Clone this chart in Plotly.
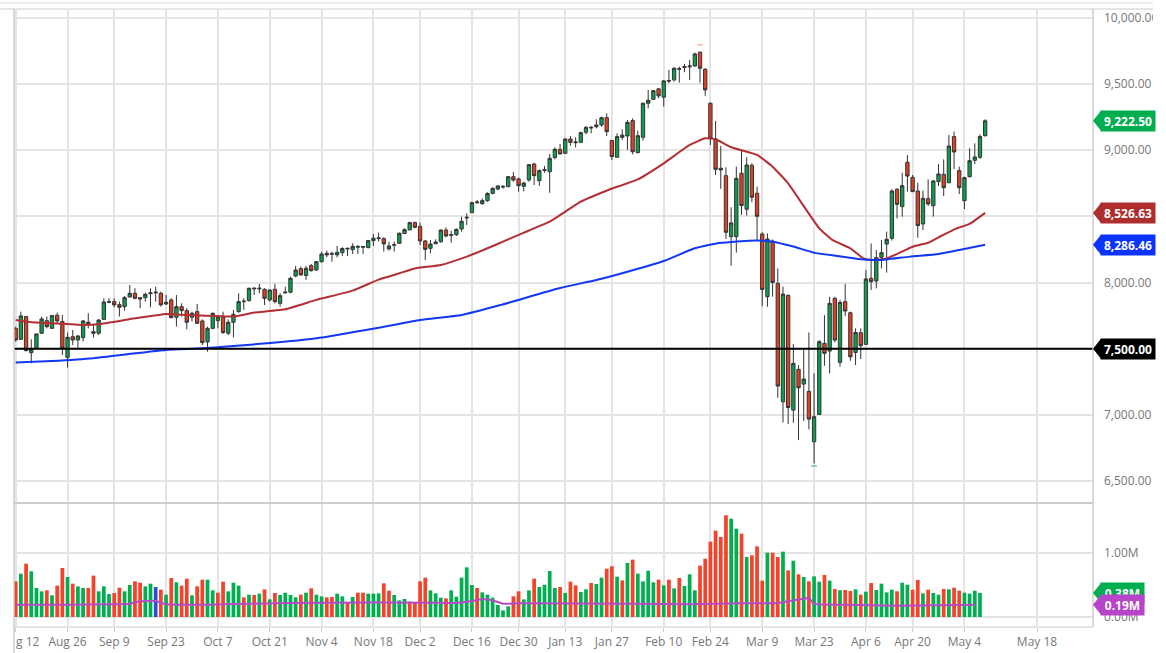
import plotly.graph_objects as go

W = 1166
H = 653

# candles, Aug 12 to May 8 (one entry per trading day)
opens = [7654, 7571, 7743, 7470, 7503, 7617, 7712, 7654, 7753, 7705,
         7435, 7591, 7566, 7584, 7700, 7629, 7617, 7722, 7851, 7856,
         7833, 7818, 7891, 7919, 7886, 7886, 7916, 7922, 7919, 7838,
         7869, 7738, 7818, 7788, 7738, 7780, 7710, 7551, 7654, 7712,
         7738, 7617, 7700, 7780, 7856, 7864, 7952, 7952, 7949, 7869,
         7949, 7843, 7922, 7927, 8050, 8105, 8053, 8128, 8095, 8158,
         8221, 8214, 8209, 8226, 8254, 8249, 8267, 8267, 8264, 8317,
         8332, 8332, 8254, 8282, 8297, 8370, 8398, 8453, 8423, 8314,
         8259, 8294, 8309, 8397, 8357, 8362, 8405, 8488, 8528, 8604,
         8596, 8619, 8674, 8707, 8722, 8725, 8800, 8783, 8727, 8775,
         8896, 8770, 8848, 8838, 8946, 9007, 8977, 9085, 9057, 9060,
         9136, 9168, 9178, 9191, 9246, 9073, 8947, 9115, 9108, 9224,
         8982, 9098, 9355, 9385, 9464, 9401, 9522, 9532, 9612, 9625,
         9630, 9637, 9741, 9612, 9355, 9086, 8864, 8808, 8347, 8347,
         8826, 8554, 8886, 8675, 8367, 7893, 8314, 7994, 7099, 7903,
         7036, 7344, 7233, 7177, 6797, 7003, 7540, 7482, 7880, 7397,
         7855, 7772, 7472, 7621, 7533, 8032, 8012, 8191, 8291, 8334,
         8705, 8574, 8909, 8795, 8692, 8443, 8634, 8581, 8763, 8818,
         8755, 9103, 8846, 8619, 8800, 8924, 8947, 9110]
highs = [7667, 7780, 7748, 7571, 7612, 7743, 7743, 7755, 7773, 7755,
         7622, 7642, 7604, 7717, 7768, 7680, 7722, 7881, 7881, 7881,
         7856, 7899, 7982, 7957, 7886, 7924, 7957, 7969, 7932, 7906,
         7881, 7906, 7843, 7806, 7780, 7838, 7722, 7667, 7773, 7755,
         7780, 7722, 7793, 7919, 7881, 7962, 7964, 7990, 7957, 7949,
         7990, 7919, 7969, 8045, 8126, 8121, 8126, 8141, 8163, 8234,
         8242, 8234, 8277, 8267, 8259, 8297, 8284, 8277, 8322, 8368,
         8378, 8342, 8310, 8310, 8378, 8410, 8461, 8461, 8453, 8322,
         8322, 8327, 8402, 8417, 8392, 8410, 8498, 8523, 8611, 8624,
         8636, 8682, 8720, 8737, 8735, 8805, 8835, 8793, 8762, 8896,
         8906, 8856, 8881, 8972, 9022, 9047, 9090, 9108, 9098, 9140,
         9183, 9183, 9234, 9254, 9279, 9078, 9128, 9158, 9229, 9241,
         9148, 9360, 9456, 9456, 9469, 9532, 9607, 9627, 9632, 9653,
         9683, 9738, 9746, 9620, 9360, 9222, 9033, 8871, 8569, 8876,
         8995, 8947, 8902, 8725, 8380, 8372, 8326, 8107, 7969, 7911,
         7535, 7376, 7490, 7623, 7313, 7565, 7754, 7893, 7893, 7868,
         7989, 7780, 7654, 7654, 8095, 8296, 8246, 8322, 8385, 8705,
         8712, 8831, 8964, 8813, 8755, 8695, 8780, 8775, 8896, 8931,
         9115, 9141, 8876, 8800, 9015, 9052, 9120, 9234]
lows = [7554, 7566, 7478, 7390, 7500, 7612, 7654, 7650, 7692, 7453,
        7357, 7528, 7503, 7554, 7654, 7584, 7604, 7717, 7843, 7813,
        7743, 7788, 7889, 7874, 7806, 7856, 7813, 7856, 7818, 7831,
        7730, 7667, 7743, 7647, 7705, 7692, 7528, 7478, 7647, 7654,
        7612, 7604, 7586, 7773, 7793, 7856, 7906, 7919, 7831, 7856,
        7843, 7818, 7919, 7919, 8040, 8050, 8020, 8083, 8090, 8151,
        8191, 8158, 8191, 8201, 8201, 8216, 8216, 8216, 8259, 8277,
        8310, 8234, 8242, 8234, 8292, 8368, 8398, 8410, 8284, 8170,
        8221, 8289, 8301, 8342, 8301, 8352, 8385, 8435, 8528, 8594,
        8588, 8611, 8667, 8699, 8709, 8720, 8762, 8687, 8689, 8762,
        8737, 8730, 8830, 8679, 8931, 8969, 8972, 9035, 9022, 9057,
        9120, 9128, 9166, 9178, 9108, 8926, 8947, 9078, 9002, 8969,
        8977, 9073, 9317, 9380, 9393, 9330, 9506, 9519, 9511, 9590,
        9532, 9632, 9511, 9411, 9040, 8813, 8708, 8330, 8128, 8226,
        8511, 8506, 8607, 8322, 7822, 7817, 7893, 7129, 6943, 6930,
        6940, 6809, 6953, 6890, 6633, 7003, 7371, 7313, 7548, 7364,
        7747, 7409, 7376, 7422, 7528, 7944, 7956, 8107, 8075, 8317,
        8485, 8498, 8687, 8687, 8339, 8397, 8579, 8498, 8730, 8654,
        8750, 8858, 8669, 8556, 8795, 8896, 8934, 9103]
closes = [7566, 7748, 7486, 7496, 7612, 7725, 7667, 7750, 7710, 7503,
          7586, 7566, 7596, 7710, 7685, 7617, 7717, 7853, 7856, 7831,
          7813, 7886, 7919, 7881, 7876, 7911, 7922, 7927, 7831, 7851,
          7735, 7818, 7788, 7700, 7768, 7692, 7546, 7654, 7768, 7738,
          7622, 7700, 7760, 7856, 7859, 7957, 7957, 7957, 7881, 7944,
          7856, 7901, 7927, 8032, 8095, 8058, 8108, 8090, 8158, 8216,
          8209, 8219, 8229, 8257, 8259, 8274, 8272, 8272, 8317, 8335,
          8337, 8292, 8277, 8287, 8373, 8400, 8453, 8418, 8315, 8251,
          8291, 8306, 8397, 8352, 8362, 8402, 8463, 8493, 8604, 8609,
          8619, 8674, 8712, 8730, 8727, 8800, 8775, 8732, 8752, 8891,
          8808, 8846, 8853, 8939, 9007, 8972, 9085, 9060, 9062, 9133,
          9173, 9173, 9191, 9246, 9141, 8952, 9103, 9098, 9211, 8989,
          9110, 9355, 9378, 9451, 9411, 9524, 9527, 9620, 9617, 9632,
          9637, 9728, 9620, 9456, 9091, 8856, 8851, 8380, 8451, 8788,
          8582, 8889, 8645, 8501, 7948, 8329, 8001, 7218, 7913, 7056,
          7389, 7205, 7271, 6968, 6986, 7553, 7465, 7843, 7565, 7850,
          7785, 7439, 7623, 7523, 8027, 8007, 8188, 8226, 8327, 8692,
          8591, 8732, 8805, 8687, 8430, 8637, 8594, 8768, 8821, 8717,
          9032, 8987, 8717, 8793, 8921, 8949, 9103, 9222.5]

# moving averages, read at the turning points of each line
red_idx = [0, 3, 7, 13, 16, 23, 29, 33, 38, 42, 46, 52, 58, 65, 70, 74, 77, 82,
           87, 92.5, 97.7, 103, 109, 114.3, 120, 125, 130, 133, 135, 138, 143,
           146, 149, 152.5, 155, 157.5, 161, 163.5, 165, 168, 170, 173, 176,
           178.5, 181.5, 184, 187]
red_ma = [7717, 7700, 7692, 7680, 7685, 7730, 7763, 7755, 7748, 7743, 7773, 7798,
          7869, 7939, 8022, 8070, 8107, 8133, 8196, 8284, 8372, 8460, 8611, 8700,
          8780, 8901, 9040, 9090, 9083, 9023, 8965, 8876, 8750, 8549, 8410, 8322,
          8259, 8183, 8170, 8183, 8216, 8271, 8301, 8352, 8410, 8443, 8526.63]
blue_idx = [0, 7, 15, 23, 29, 36, 42, 48.5, 58, 70, 78, 86, 93.5, 105, 112, 118,
            125, 131, 135, 137, 143, 146, 150, 154, 158.5, 163, 166, 168, 172.5,
            178, 182, 187]
blue_ma = [7395, 7407, 7428, 7465, 7491, 7503, 7521, 7541, 7579, 7659, 7717, 7755,
           7830, 7959, 8019, 8082, 8163, 8259, 8294, 8302, 8317, 8309, 8272, 8226,
           8201, 8176, 8171, 8175, 8196, 8216, 8246, 8286.46]

# volume in millions
volumes = [0.557, 0.677, 0.833, 0.714, 0.453, 0.401, 0.417, 0.339, 0.490, 0.766,
           0.625, 0.521, 0.479, 0.453, 0.453, 0.646, 0.401, 0.479, 0.359, 0.375,
           0.458, 0.401, 0.500, 0.557, 0.536, 0.479, 0.521, 0.469, 0.427, 0.349,
           0.609, 0.542, 0.490, 0.599, 0.339, 0.479, 0.583, 0.583, 0.417, 0.380,
           0.552, 0.401, 0.536, 0.490, 0.307, 0.349, 0.344, 0.365, 0.432, 0.276,
           0.375, 0.344, 0.380, 0.344, 0.307, 0.349, 0.380, 0.448, 0.349, 0.323,
           0.307, 0.313, 0.365, 0.323, 0.234, 0.313, 0.380, 0.380, 0.365, 0.365,
           0.370, 0.526, 0.411, 0.344, 0.260, 0.281, 0.240, 0.234, 0.557, 0.615,
           0.417, 0.370, 0.302, 0.292, 0.417, 0.318, 0.615, 0.776, 0.500, 0.453,
           0.385, 0.349, 0.302, 0.188, 0.104, 0.167, 0.323, 0.401, 0.276, 0.417,
           0.599, 0.469, 0.505, 0.719, 0.453, 0.469, 0.375, 0.552, 0.495, 0.391,
           0.432, 0.531, 0.516, 0.615, 0.755, 0.792, 0.630, 0.573, 0.844, 0.896,
           0.677, 0.557, 0.724, 0.542, 0.583, 0.495, 0.583, 0.448, 0.609, 0.484,
           0.667, 0.417, 0.802, 0.911, 1.177, 1.349, 1.250, 1.589, 1.536, 1.380,
           1.302, 0.938, 0.964, 1.104, 0.568, 1.005, 1.005, 0.938, 1.021, 0.729,
           0.880, 0.667, 0.625, 0.557, 0.635, 0.552, 0.656, 0.568, 0.438, 0.417,
           0.422, 0.406, 0.432, 0.349, 0.396, 0.531, 0.422, 0.521, 0.385, 0.427,
           0.401, 0.536, 0.505, 0.427, 0.578, 0.370, 0.427, 0.375, 0.349, 0.438,
           0.432, 0.458, 0.411, 0.380, 0.365, 0.411, 0.375]
volume_sides = list(
    "RGRGGGRGRR" "GRGGRRGGGR" "RGGRRGGBRG" "RGRRGRRGGR"
    "RGGGRGRGRG" "RGGGGRGRGG" "RRGGRGRRGG" "GRRGGGRRRR"
    "GGGRGGGGGR" "GGGGGGRRGG" "RGGGGRGRRG" "GRGGRRGRGR"
    "GGGGRGRGRG" "GGRRRRRRGG" "RGRRRGRRGR" "GRGRGGRGRG"
    "RRGRGRGGGG" "RGGRRGRGGR" "GRRGGGG"
)
volume_ma_idx = [0, 10, 18, 22, 24, 27, 29, 40, 45, 60, 80, 85, 88, 90, 92, 94, 97,
                 120, 130, 140, 147, 150, 152, 153, 154, 160, 170, 185]
volume_ma = [0.193, 0.193, 0.198, 0.208, 0.245, 0.250, 0.198, 0.198, 0.208, 0.224,
             0.224, 0.219, 0.250, 0.276, 0.260, 0.208, 0.214, 0.208, 0.198, 0.214,
             0.219, 0.260, 0.286, 0.297, 0.208, 0.193, 0.177, 0.190]

# small arrows the site puts on the high and the low
mark_idx = [132, 154]
mark_vals = [9796, 6614]

tick_idx = [0, 10, 19, 29, 39, 49, 59, 69, 78, 88, 97, 106, 115, 125, 134, 144, 154,
            164, 173, 183, 197]
# first label is cut by the left edge in the original, drawn separately below
tick_text = ["", "Aug 26", "Sep 9", "Sep 23", "Oct 7", "Oct 21", "Nov 4", "Nov 18",
             "Dec 2", "Dec 16", "Dec 30", "Jan 13", "Jan 27", "Feb 10", "Feb 24", "Mar 9",
             "Mar 23", "Apr 6", "Apr 20", "May 4", "May 18"]
first_label = "g 12"
price_ticks = [6500, 7000, 7500, 8000, 8500, 9000, 9500, 10000]
price_text = ["6,500.00", "7,000.00", "", "8,000.00", "", "9,000.00", "9,500.00", "10,000.00"]

GRID = "#e4e4e4"
BORDER = "#cccccc"
TEXT = "#777777"
FONT = "Open Sans"
GREEN = "#0a9f4d"
RED = "#e03f22"
VOL_COLORS = {"G": "#00b050", "R": "#f4432a", "B": "#2a4fd6"}


def px_x(p):
    return p / W


def px_y(p):
    return 1 - p / H


x_range = [-0.328, 207.8]
days = list(range(len(closes)))

fig = go.Figure()
fig.add_trace(go.Candlestick(
    x=days, open=opens, high=highs, low=lows, close=closes,
    increasing=dict(line=dict(color="#333333", width=1), fillcolor=GREEN),
    decreasing=dict(line=dict(color="#333333", width=1), fillcolor=RED),
    whiskerwidth=0, xaxis="x", yaxis="y",
))
fig.add_trace(go.Scatter(x=red_idx, y=red_ma, mode="lines", xaxis="x", yaxis="y",
                         line=dict(color="#b32f33", width=2, shape="spline", smoothing=0.35)))
fig.add_trace(go.Scatter(x=blue_idx, y=blue_ma, mode="lines", xaxis="x", yaxis="y",
                         line=dict(color="#1038f5", width=2, shape="spline", smoothing=0.5)))
fig.add_trace(go.Scatter(x=[mark_idx[0]], y=[mark_vals[0]], mode="markers", xaxis="x", yaxis="y",
                         marker=dict(symbol="line-ew", size=4, line=dict(color="#f08a70", width=1))))
fig.add_trace(go.Scatter(x=[mark_idx[1]], y=[mark_vals[1]], mode="markers", xaxis="x", yaxis="y",
                         marker=dict(symbol="line-ew", size=4, line=dict(color="#20b060", width=1))))
fig.add_trace(go.Bar(x=days[:len(volumes)], y=volumes, xaxis="x2", yaxis="y2", width=0.72,
                     marker=dict(color=[VOL_COLORS[s] for s in volume_sides], line=dict(width=0))))
fig.add_trace(go.Scatter(x=volume_ma_idx, y=volume_ma, mode="lines", xaxis="x2", yaxis="y2",
                         line=dict(color="#b848c8", width=2, shape="spline", smoothing=0.5)))

axis_font = dict(family=FONT, size=12, color=TEXT)
fig.update_layout(
    width=W, height=H, margin=dict(l=0, r=0, t=0, b=0), showlegend=False,
    paper_bgcolor="white", plot_bgcolor="white", font=dict(family=FONT),
    bargap=0.3, boxgap=0.2, boxgroupgap=0.2,
    xaxis=dict(domain=[px_x(14), px_x(1093)], range=x_range, anchor="y", rangeslider=dict(visible=False),
               tickmode="array", tickvals=tick_idx, ticktext=[""] * len(tick_idx), showticklabels=False,
               showgrid=True, gridcolor=GRID, gridwidth=2, zeroline=False, ticks=""),
    yaxis=dict(domain=[px_y(503), px_y(10)], range=[6334, 10060], anchor="x", side="right",
               tickmode="array", tickvals=price_ticks, ticktext=price_text, tickfont=axis_font,
               ticklabelstandoff=10, ticks="", showgrid=True, gridcolor=GRID, gridwidth=2, zeroline=False),
    xaxis2=dict(domain=[px_x(14), px_x(1093)], range=x_range, anchor="y2",
                tickmode="array", tickvals=tick_idx, ticktext=tick_text, tickfont=axis_font,
                ticks="outside", ticklen=4, tickcolor=BORDER, tickwidth=1,
                showgrid=True, gridcolor=GRID, gridwidth=2, zeroline=False, tickangle=0),
    yaxis2=dict(domain=[px_y(627), px_y(503)], range=[-0.156, 1.781], anchor="x2", side="right",
                tickmode="array", tickvals=[0, 1], ticktext=["0.00M", "1.00M"], tickfont=axis_font,
                ticklabelstandoff=10, ticks="", showgrid=True, gridcolor=GRID, gridwidth=2, zeroline=False),
)

shapes = [
    # 7500 level
    dict(type="line", xref="x", yref="y", x0=x_range[0], x1=x_range[1], y0=7500, y1=7500,
         line=dict(color="black", width=2)),
    # frame of the two panes
    dict(type="line", xref="paper", yref="paper", x0=0, x1=px_x(1153), y0=px_y(3), y1=px_y(3),
         line=dict(color="#dddddd", width=1)),
    dict(type="line", xref="paper", yref="paper", x0=0, x1=px_x(1153), y0=px_y(9), y1=px_y(9),
         line=dict(color=BORDER, width=1)),
    dict(type="line", xref="paper", yref="paper", x0=px_x(14), x1=px_x(1093), y0=px_y(503), y1=px_y(503),
         line=dict(color=BORDER, width=2)),
    dict(type="line", xref="paper", yref="paper", x0=px_x(14), x1=px_x(1093), y0=px_y(627), y1=px_y(627),
         line=dict(color=GRID, width=2)),
    dict(type="line", xref="paper", yref="paper", x0=px_x(14), x1=px_x(14), y0=px_y(9), y1=0,
         line=dict(color=BORDER, width=1.5)),
    dict(type="line", xref="paper", yref="paper", x0=px_x(1093), x1=px_x(1093), y0=px_y(9), y1=px_y(627),
         line=dict(color=BORDER, width=1.5)),
    # the site cuts off text at this edge
    dict(type="rect", xref="paper", yref="paper", x0=px_x(1153), x1=1, y0=px_y(30), y1=1,
         fillcolor="white", line=dict(width=0)),
]

annotations = [
    dict(x=px_x(14), y=px_y(641), xref="paper", yref="paper", xanchor="left", yanchor="middle",
         text=first_label, showarrow=False, font=axis_font),
]


def add_flag(value, label, color, yref, right):
    # tip of the flag in pixels around the value, box as the label background
    shapes.append(dict(type="path", xref="paper", yref=yref, xanchor=px_x(1093), yanchor=value,
                       xsizemode="pixel", ysizemode="pixel", path="M 0 0 L 8 10 L 8 -10 Z",
                       fillcolor=color, line=dict(width=0)))
    annotations.append(dict(x=px_x(1100), y=value, xref="paper", yref=yref, xanchor="left", yanchor="middle",
                            text="<b>%s</b>" % label, showarrow=False, width=right - 1100, height=20, align="center",
                            bgcolor=color, borderpad=0, font=dict(family=FONT, size=12, color="white")))


add_flag(closes[-1], "9,222.50", "#00ae4f", "y", 1154)
add_flag(red_ma[-1], "8,526.63", "#ae2d2d", "y", 1154)
add_flag(blue_ma[-1], "8,286.46", "#0d33ff", "y", 1154)
add_flag(7500, "7,500.00", "black", "y", 1154)
add_flag(volumes[-1], "0.38M", "#00ae4f", "y2", 1143)
add_flag(0.19, "0.19M", "#b845c9", "y2", 1143)

fig.update_layout(shapes=shapes, annotations=annotations)
fig.write_html("out.html", config={"displayModeBar": False},
               post_script="document.body.style.margin = '0';")
